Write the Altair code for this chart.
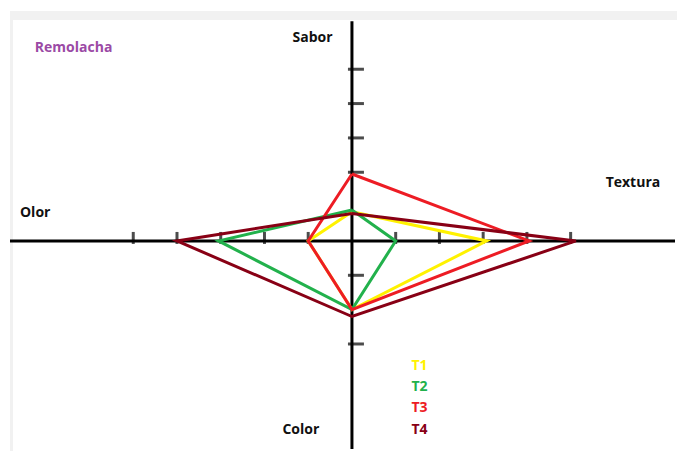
import altair as alt
import pandas as pd

# Axis order around the diagram
axes = ["Sabor", "Textura", "Color", "Olor"]
series = ["T1", "T2", "T3", "T4"]
colors = ["#FFF200", "#22B14C", "#ED1C24", "#880015"]

# values per axis (Sabor, Textura, Color, Olor)
T1 = [0.85, 3.08, 2.0, 1.0]
T2 = [0.9, 1.0, 2.0, 3.05]
T3 = [1.95, 4.05, 2.0, 1.0]
T4 = [0.8, 5.12, 2.2, 4.0]
values = {"T1": T1, "T2": T2, "T3": T3, "T4": T4}

# tick positions on each half-axis
ticks_up = [2, 3, 4, 5]
ticks_down = [1, 3]
ticks_right = [1, 2, 3, 4, 5]
ticks_left = [1, 2, 3, 4, 5]

# axis labels: text, x, y (in diagram units)
label_text = ["Sabor", "Textura", "Olor", "Color"]
label_x = [-1.36, 5.8, -7.59, -1.59]
label_y = [5.91, 1.68, 0.81, -5.51]

title_text = "Remolacha"
title_x = -7.25
title_y = 5.62

legend_x = 1.36
legend_y = [-3.65, -4.26, -4.87, -5.51]

axis_top = 6.4

direction = {"Sabor": (0, 1), "Textura": (1, 0), "Color": (0, -1), "Olor": (-1, 0)}

rows = []
for s in series:
    vals = values[s]
    seq = list(range(len(axes))) + [0]
    for i, k in enumerate(seq):
        ax = axes[k]
        dx, dy = direction[ax]
        rows.append({"serie": s, "order": i, "x": dx * vals[k], "y": dy * vals[k]})
poly = pd.DataFrame(rows)

xs = alt.Scale(domain=[-7.818, 7.386], zero=False, nice=False)
ys = alt.Scale(domain=[-6.058, 6.783], zero=False, nice=False)
cs = alt.Scale(domain=series, range=colors)

base_font = "Open Sans"

# light grey frame strips of the screenshot
frame_top = alt.Chart(pd.DataFrame({"a": [0]})).mark_rect(color="#f1f1f1").encode(
    x=alt.value(0), x2=alt.value(669), y=alt.value(3), y2=alt.value(12))
frame_left = alt.Chart(pd.DataFrame({"a": [0]})).mark_rect(color="#f1f1f1").encode(
    x=alt.value(0), x2=alt.value(3), y=alt.value(3), y2=alt.value(443))

vaxis = alt.Chart(pd.DataFrame({"x": [0], "y": [-6.058], "y2": [axis_top]})).mark_rule(
    color="black", strokeWidth=3).encode(
    x=alt.X("x:Q", scale=xs, axis=None),
    y=alt.Y("y:Q", scale=ys, axis=None), y2="y2:Q")
haxis = alt.Chart(pd.DataFrame({"y": [0]})).mark_rule(color="black", strokeWidth=3).encode(
    y=alt.Y("y:Q", scale=ys, axis=None))

vt = pd.DataFrame({"x": [0] * (len(ticks_up) + len(ticks_down)),
                   "y": ticks_up + [-t for t in ticks_down]})
vticks = alt.Chart(vt).mark_tick(orient="horizontal", color="black", thickness=3, size=16, xOffset=4).encode(
    x=alt.X("x:Q", scale=xs, axis=None), y=alt.Y("y:Q", scale=ys, axis=None))

ht = pd.DataFrame({"x": ticks_right + [-t for t in ticks_left],
                   "y": [0] * (len(ticks_right) + len(ticks_left))})
hticks = alt.Chart(ht).mark_tick(orient="vertical", color="black", thickness=3, size=12, yOffset=-3).encode(
    x=alt.X("x:Q", scale=xs, axis=None), y=alt.Y("y:Q", scale=ys, axis=None))

lines = alt.Chart(poly).mark_line(strokeWidth=3).encode(
    x=alt.X("x:Q", scale=xs, axis=None),
    y=alt.Y("y:Q", scale=ys, axis=None),
    color=alt.Color("serie:N", scale=cs, legend=None),
    detail="serie:N",
    order="order:O",
)

labels = alt.Chart(pd.DataFrame({"t": label_text, "x": label_x, "y": label_y})).mark_text(
    align="left", baseline="middle", font=base_font, fontWeight="bold", fontSize=14, color="#111111").encode(
    x=alt.X("x:Q", scale=xs, axis=None), y=alt.Y("y:Q", scale=ys, axis=None), text="t:N")

title = alt.Chart(pd.DataFrame({"t": [title_text], "x": [title_x], "y": [title_y]})).mark_text(
    align="left", baseline="middle", font=base_font, fontWeight="bold", fontSize=14, color="#9B4AA5").encode(
    x=alt.X("x:Q", scale=xs, axis=None), y=alt.Y("y:Q", scale=ys, axis=None), text="t:N")

leg = alt.Chart(pd.DataFrame({"t": series, "x": [legend_x] * 4, "y": legend_y})).mark_text(
    align="left", baseline="middle", font=base_font, fontWeight="bold", fontSize=14).encode(
    x=alt.X("x:Q", scale=xs, axis=None), y=alt.Y("y:Q", scale=ys, axis=None), text="t:N",
    color=alt.Color("t:N", scale=cs, legend=None))

chart = alt.layer(frame_top, frame_left, haxis, vaxis, hticks, vticks, lines, labels, title, leg).properties(
    width=669, height=443, padding=0,
    autosize=alt.AutoSizeParams(type="fit", contains="padding"),
    background="white",
).configure_view(stroke=None)

chart.save("out.html", embed_options={"renderer": "svg", "actions": False})
